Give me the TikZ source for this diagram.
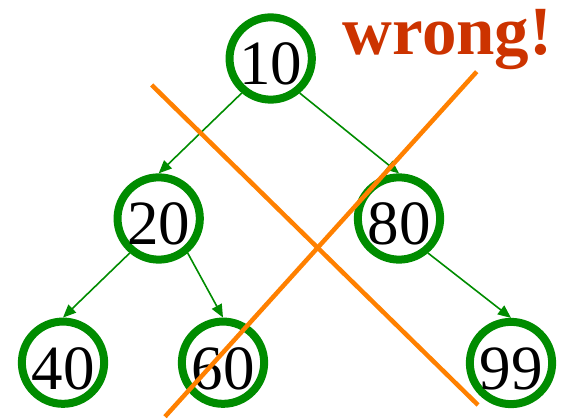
\documentclass[tikz,border=0pt]{standalone}
\usepackage{fontspec}
\setmainfont{Liberation Serif}
\usetikzlibrary{arrows.meta}
\definecolor{treegreen}{RGB}{0,140,0}
\definecolor{crossorange}{RGB}{255,128,0}
\definecolor{wrongred}{RGB}{204,51,0}
\tikzset{
  treenode/.style={circle, draw=treegreen, line width=8pt, minimum size=79pt, inner sep=0pt,
    font=\fontsize{63}{63}\selectfont, text height=53pt, text depth=0pt},
  edge/.style={draw=treegreen, line width=1.6pt, -{Triangle[length=13pt,width=11pt]}},
  cross/.style={draw=crossorange, line width=4.5pt},
}
\begin{document}
\begin{tikzpicture}[x=1pt,y=-1pt]
\useasboundingbox (0,0) rectangle (562,419);
\node[treenode] (n10) at (270.7,58.5) {10};
\node[treenode] (n20) at (158.7,218.5) {20};
\node[treenode] (n80) at (399,218.5) {80};
\node[treenode] (n40) at (63,362.7) {40};
\node[treenode] (n60) at (223,362.7) {60};
\node[treenode] (n99) at (511,363) {99};
\draw[edge] (n10.230) -- (n20.north);
\draw[edge] (n10.310) -- (n80.north);
\draw[edge] (n20.230) -- (n40.north);
\draw[edge] (n20.310) -- (n60.north);
\draw[edge] (n80.310) -- (n99.north);
\coordinate (c1a) at (151.7,85);
\coordinate (c1b) at (478,405);
\coordinate (c2a) at (476.7,71.7);
\coordinate (c2b) at (165,416.7);
\draw[cross] (c1a) -- (c1b);
\draw[cross] (c2a) -- (c2b);
\node[anchor=base west, inner sep=0pt, text=wrongred, font=\fontsize{69}{69}\selectfont\bfseries] (wrong) at (342.7,55) {wrong!};
\end{tikzpicture}
\end{document}
